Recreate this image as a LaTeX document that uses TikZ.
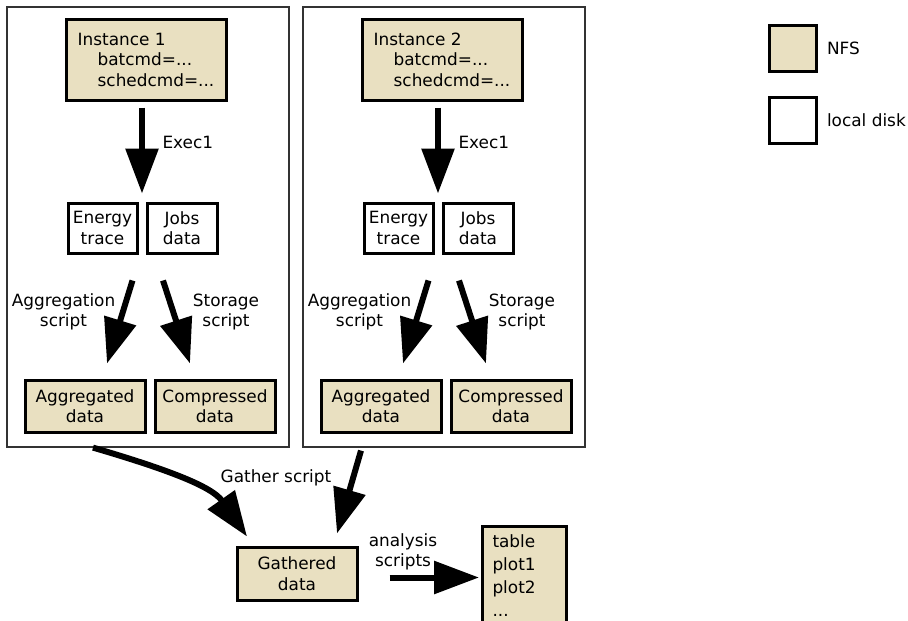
\documentclass[tikz,border=0pt]{standalone}
\usepackage{fontspec}
\setmainfont{DejaVu Sans}
\usetikzlibrary{arrows.meta,calc,positioning}
\definecolor{nfsbeige}{RGB}{233,224,193}

\begin{document}
\begin{tikzpicture}[x=1pt,y=-1pt,
    every node/.style={font=\fontsize{16.9}{20.5}\selectfont},
    frame/.style={draw=black!80, line width=1.2pt, inner sep=0pt},
    nfs/.style={draw, line width=3pt, fill=nfsbeige, align=center, inner sep=0pt},
    local/.style={draw, line width=3pt, fill=white, align=center, inner sep=0pt},
    lbl/.style={align=center},
    bigarrow/.style={line width=6pt, -{Triangle[length=45pt,width=32pt]}}]
    \useasboundingbox (0,0) rectangle (908,621);

    % the two instances
    \foreach \i/\dx in {1/0,2/296}{
    \begin{scope}[xshift=\dx]
        \node[frame, minimum width=282pt, minimum height=440pt] (box\i) at (148,227) {};
        \node[nfs, align=left, minimum width=160pt, minimum height=81pt] (inst\i) at (146,59.5)
            {Instance \i\\\hspace*{20pt}batcmd=...\\\hspace*{20pt}schedcmd=...};
        \node[local, minimum width=69pt, minimum height=50pt] (energy\i) at (102.5,228) {Energy\\trace};
        \node[local, minimum width=70pt, minimum height=50pt] (jobs\i) at (182,228) {Jobs\\data};
        \node[nfs, minimum width=120pt, minimum height=52pt] (aggr\i) at (85,406) {Aggregated\\data};
        \node[nfs, minimum width=120pt, minimum height=52pt] (compr\i) at (215,406) {Compressed\\data};
        \coordinate (mid\i) at ($(energy\i.north east)!.5!(jobs\i.north west)$);
        \draw[bigarrow, shorten <=6pt, shorten >=8pt] (mid\i |- inst\i.south) -- (mid\i);
        \node[anchor=west] (exec\i) at (159,142) {Exec1};
        \draw[bigarrow] ([xshift=30pt,yshift=-26pt]energy\i.south) -- ([xshift=22pt,yshift=15pt]aggr\i.north);
        \draw[bigarrow] ([xshift=-19pt,yshift=-26pt]jobs\i.south) -- ([xshift=-25pt,yshift=15pt]compr\i.north);
        \node[lbl] (aggrlbl\i) at (63.5,312) {Aggregation\\script};
        \node[lbl] (storlbl\i) at (226,312) {Storage\\script};
    \end{scope}
    }

    % gathering and analysis
    \node[nfs, minimum width=120pt, minimum height=53pt] (gathered) at (297,573.5) {Gathered\\data};
    \node[nfs, align=left, anchor=north west, text width=64pt, inner xsep=10pt, inner ysep=8pt,
        font=\fontsize{16.9}{23}\selectfont] (results) at (481,525) {table\\plot1\\plot2\\...};
    \draw[bigarrow] ([xshift=-55pt]box1.south) .. controls +(75,22) and +(-35,-50) .. ([xshift=-50pt,yshift=9pt]gathered.north);
    \draw[bigarrow] ([xshift=-83pt,yshift=-3pt]box2.south) -- ([xshift=40pt,yshift=12pt]gathered.north);
    \node (gatherlbl) at (276,478) {Gather script};
    \coordinate (aout) at ([yshift=-4pt]gathered.east);
    \draw[bigarrow, shorten <=31pt, shorten >=2pt] (aout) -- (aout -| results.west);
    \node[lbl] (analysislbl) at (403,552) {analysis\\scripts};

    % legend
    \node[nfs, minimum width=47pt, minimum height=46pt] (nfskey) at (792.5,48) {};
    \node[right=6pt of nfskey] (nfslbl) {NFS};
    \node[local, minimum width=47pt, minimum height=46pt] (localkey) at (792.5,120) {};
    \node[right=6pt of localkey] (locallbl) {local disk};
\end{tikzpicture}
\end{document}
